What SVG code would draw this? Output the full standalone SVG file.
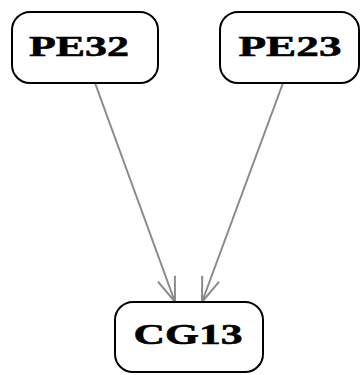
<svg xmlns="http://www.w3.org/2000/svg" width="362" height="375" viewBox="0 0 362 375">
<style>
.node rect{fill:#fff;stroke:#000;stroke-width:2}
.node text{font-family:"Liberation Serif","Times New Roman",serif;font-weight:bold;font-size:30px;text-anchor:middle;fill:#000;stroke:#000;stroke-width:0.6}
.edge{stroke:#8a8a8a;stroke-width:2;fill:none}
</style>
<defs>
<marker id="arr" viewBox="0 0 25 20" refX="25" refY="10" markerWidth="25" markerHeight="20" markerUnits="userSpaceOnUse" orient="auto">
<path d="M0,1 L25,10 L0,19" fill="none" stroke="#8a8a8a" stroke-width="2"/>
</marker>
</defs>
<rect width="362" height="375" fill="#fff"/>
<g id="edges">
<line class="edge" x1="95" y1="83" x2="175" y2="302" marker-end="url(#arr)"/>
<line class="edge" x1="283" y1="83" x2="202" y2="302" marker-end="url(#arr)"/>
</g>
<g id="PE32" class="node">
<rect x="12" y="12" width="146" height="71" rx="18"/>
<text x="79" y="56" textLength="100" lengthAdjust="spacingAndGlyphs">PE32</text>
</g>
<g id="PE23" class="node">
<rect x="220" y="12" width="139" height="71" rx="18"/>
<text x="290" y="56" textLength="103" lengthAdjust="spacingAndGlyphs">PE23</text>
</g>
<g id="CG13" class="node">
<rect x="115" y="302" width="148" height="70" rx="18"/>
<text x="188" y="344" textLength="109" lengthAdjust="spacingAndGlyphs">CG13</text>
</g>
</svg>
